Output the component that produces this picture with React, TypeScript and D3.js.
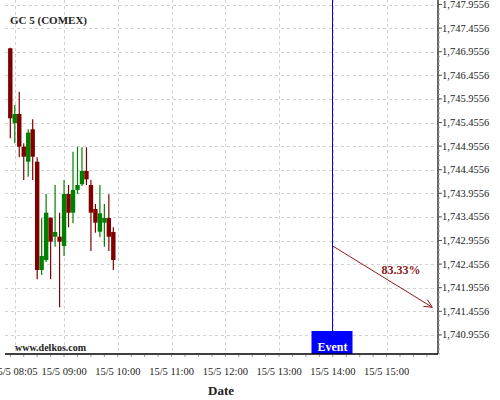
import React from "react";
import * as d3 from "d3";

const title = "GC 5 (COMEX)";
const candleTimes = ["08:00","08:05","08:10","08:15","08:20","08:25","08:30","08:35","08:40","08:45","08:50","08:55","09:00","09:05","09:10","09:15","09:20","09:25","09:30","09:35","09:40","09:45","09:50","09:55"];
const opens =  [1747.028,1745.439,1745.636,1744.943,1744.625,1745.312,1744.625,1742.331,1742.542,1743.439,1743.036,1743.036,1742.839,1743.941,1743.545,1744.026,1744.147,1744.428,1744.131,1743.623,1743.142,1743.333,1743.432,1743.136];
const highs =  [1747.040,1745.827,1746.108,1745.015,1745.312,1745.524,1744.718,1743.426,1743.941,1743.445,1744.131,1743.545,1744.237,1744.131,1744.837,1744.943,1744.930,1744.930,1744.237,1743.729,1744.131,1743.729,1743.935,1743.236];
const lows =   [1745.121,1745.015,1744.718,1744.237,1744.307,1744.237,1742.134,1742.225,1742.500,1742.134,1742.824,1741.540,1742.627,1743.236,1743.320,1743.941,1744.110,1744.131,1742.733,1743.121,1743.023,1742.824,1742.733,1742.331];
const closes = [1745.545,1745.636,1744.943,1744.731,1745.240,1744.731,1742.331,1742.627,1743.545,1742.930,1743.136,1742.930,1743.941,1743.545,1744.026,1744.131,1744.428,1744.252,1743.545,1743.333,1743.532,1743.432,1743.036,1742.542];

const yTickValues = [1740.9556,1741.4556,1741.9556,1742.4556,1742.9556,1743.4556,1743.9556,1744.4556,1744.9556,1745.4556,1745.9556,1746.4556,1746.9556,1747.4556,1747.9556];
const xTickTimes = ["08:05","09:00","10:00","11:00","12:00","13:00","14:00","15:00"];
const xTickLabels = ["15/5 08:05","15/5 09:00","15/5 10:00","15/5 11:00","15/5 12:00","15/5 13:00","15/5 14:00","15/5 15:00"];

const eventTime = "14:00";
const eventLabel = "Event";
const arrowStart = { time: "14:00", value: 1742.838 };
const arrowEnd = { time: "15:51", value: 1741.541 };
const arrowLabel = "83.33%";
const watermark = "www.delkos.com";
const xAxisTitle = "Date";

const toDate = (s: string) => {
  const [h, m] = s.split(":").map(Number);
  return new Date(2015, 4, 15, h, m, 0);
};

const W = 500, H = 400;
const left = 5, right = 438, top = 0, bottom = 354;

export default function App() {
  const x = d3.scaleTime()
    .domain([new Date(2015, 4, 15, 7, 54, 5), new Date(2015, 4, 15, 15, 57, 24)])
    .range([left, right]);
  const y = d3.scaleLinear().domain([1740.551, 1748.051]).range([bottom, top]);
  const fmt = d3.format(",.4f");
  const serif = "'Liberation Serif', 'DejaVu Serif', serif";
  const red = "#800000", green = "#008000";
  const bw = 4.4;
  const gridColor = "#d2d2d2";

  const minorY: number[] = [];
  for (let v = 1740.5556; v <= 1748.0; v += 0.1) {
    const r = Math.round(v * 10000) / 10000;
    if (y(r) >= top && y(r) <= bottom) minorY.push(r);
  }
  const minorX: Date[] = [];
  for (let m = 8 * 60; m <= 15 * 60 + 57; m += 15) {
    minorX.push(new Date(2015, 4, 15, Math.floor(m / 60), m % 60));
  }

  const ax0 = x(toDate(arrowStart.time)), ay0 = y(arrowStart.value);
  const ax1 = x(toDate(arrowEnd.time)), ay1 = y(arrowEnd.value);
  const ang = Math.atan2(ay1 - ay0, ax1 - ax0);
  const hl = 9, ha = 0.45;
  const head = `M${ax1 - hl * Math.cos(ang - ha)},${ay1 - hl * Math.sin(ang - ha)}L${ax1},${ay1}L${ax1 - hl * Math.cos(ang + ha)},${ay1 - hl * Math.sin(ang + ha)}`;

  const ex = Math.floor(x(toDate(eventTime))) + 0.5;

  return (
    <svg width={W} height={H} style={{ position: "absolute", left: 0, top: 0, background: "#fff" }}>
      <rect x={0} y={0} width={W} height={H} fill="#fff" />
      {/* grid */}
      {yTickValues.map((v) => (
        <line key={"gy" + v} x1={left} x2={right} y1={Math.round(y(v)) + 0.5} y2={Math.round(y(v)) + 0.5} stroke={gridColor} strokeDasharray="3,3" strokeWidth={1} />
      ))}
      {xTickTimes.map((t) => (
        <line key={"gx" + t} x1={Math.round(x(toDate(t))) + 0.5} x2={Math.round(x(toDate(t))) + 0.5} y1={top} y2={bottom} stroke={gridColor} strokeDasharray="3,3" strokeWidth={1} />
      ))}
      {/* candles */}
      {candleTimes.map((t, i) => {
        const cx = x(toDate(t));
        const up = closes[i] >= opens[i];
        const c = up ? green : red;
        const yTop = y(Math.max(opens[i], closes[i]));
        const yBot = y(Math.min(opens[i], closes[i]));
        return (
          <g key={"c" + i}>
            <line x1={cx} x2={cx} y1={y(highs[i])} y2={y(lows[i])} stroke={c} strokeWidth={1.2} />
            <rect x={cx - bw / 2} y={yTop} width={bw} height={Math.max(1, yBot - yTop)} fill={c} />
          </g>
        );
      })}
      {/* event */}
      <line x1={ex} x2={ex} y1={top} y2={331} stroke="#0000ee" strokeWidth={1} />
      <rect x={ex - 21} y={331} width={41} height={bottom - 331} fill="#0000ff" />
      <text x={ex} y={351} textAnchor="middle" fill="#fff" fontFamily={serif} fontWeight="bold" fontSize={12}>{eventLabel}</text>
      {/* arrow */}
      <line x1={ax0} y1={ay0} x2={ax1} y2={ay1} stroke="#8b1a1a" strokeWidth={1} />
      <path d={head} fill="none" stroke="#8b1a1a" strokeWidth={1} />
      <text x={(ax0 + ax1) / 2 - 1} y={(ay0 + ay1) / 2 - 3} fill="#8b1a1a" fontFamily={serif} fontWeight="bold" fontSize={12}>{arrowLabel}</text>
      {/* axes */}
      <line x1={right} x2={right} y1={top} y2={bottom} stroke="#000" strokeWidth={1.2} />
      <line x1={left} x2={right} y1={bottom} y2={bottom} stroke="#000" strokeWidth={1.5} />
      {minorY.map((v) => (
        <line key={"my" + v} x1={right} x2={right + 2} y1={y(v)} y2={y(v)} stroke="#999" strokeWidth={1} />
      ))}
      {yTickValues.map((v) => (
        <g key={"ty" + v}>
          <line x1={right} x2={right + 4} y1={y(v)} y2={y(v)} stroke="#555" strokeWidth={1} />
          <text x={right + 4} y={y(v) + 3.5} fill="#222" fontFamily={serif} fontSize={10.5}>{fmt(v)}</text>
        </g>
      ))}
      {minorX.map((d, i) => (
        <line key={"mx" + i} x1={x(d)} x2={x(d)} y1={bottom + 1} y2={bottom + 3} stroke="#999" strokeWidth={1} />
      ))}
      {xTickTimes.map((t, i) => (
        <text key={"tx" + t} x={x(toDate(t))} y={375} textAnchor="middle" fill="#222" fontFamily={serif} fontSize={10.5}>{xTickLabels[i]}</text>
      ))}
      <text x={221} y={395} textAnchor="middle" fill="#222" fontFamily={serif} fontWeight="bold" fontSize={13}>{xAxisTitle}</text>
      <text x={10} y={24} fill="#222" fontFamily={serif} fontWeight="bold" fontSize={11}>{title}</text>
      <text x={15} y={351} fill="#222" fontFamily={serif} fontWeight="bold" fontSize={10}>{watermark}</text>
    </svg>
  );
}
